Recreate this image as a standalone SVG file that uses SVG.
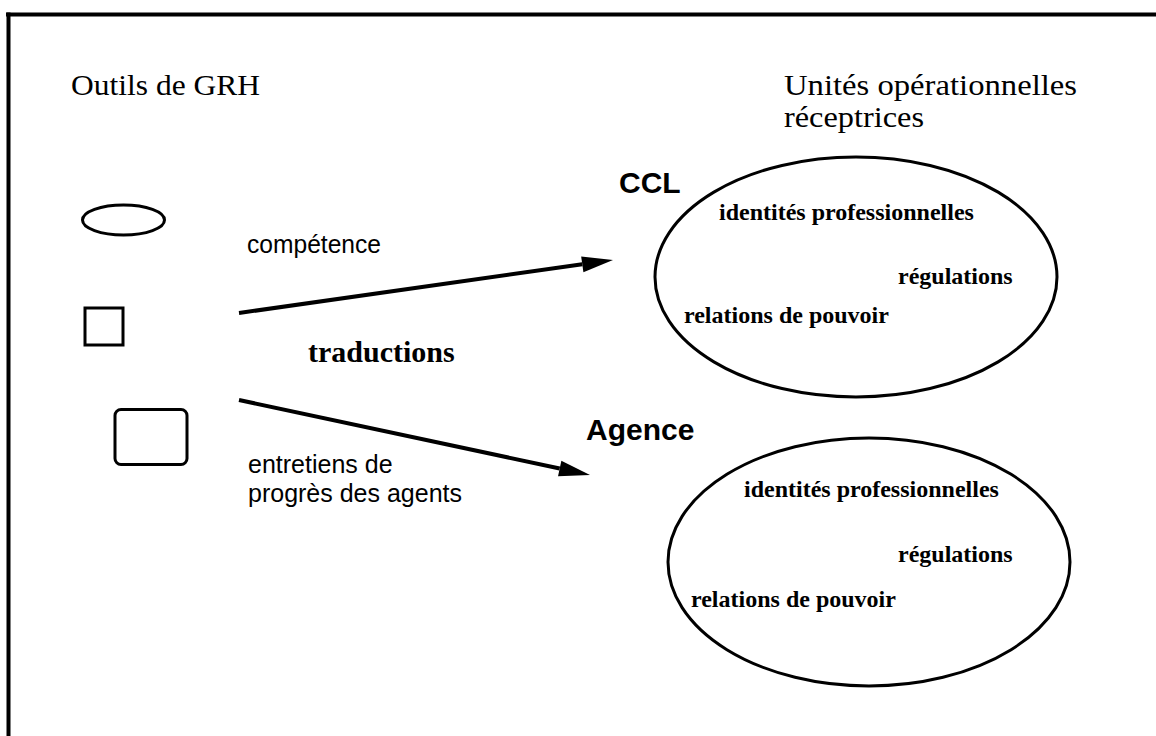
<svg xmlns="http://www.w3.org/2000/svg" width="1156" height="736" viewBox="0 0 1156 736">
<style>
.frame{stroke:#000;stroke-width:4;fill:none}
.shape{fill:none;stroke:#000;stroke-width:3}
.conn{stroke:#000;stroke-width:4;fill:none;marker-end:url(#ah)}
.head{font-family:"Liberation Serif","Times New Roman",serif;font-size:29px;fill:#000}
.inner{font-family:"Liberation Serif","Times New Roman",serif;font-size:24px;font-weight:bold;fill:#000}
.sans{font-family:"Liberation Sans",Arial,sans-serif;font-size:25px;fill:#000}
.unit{font-family:"Liberation Sans",Arial,sans-serif;font-size:30px;font-weight:bold;fill:#000}
.trad{font-family:"Liberation Serif","Times New Roman",serif;font-size:30px;font-weight:bold;fill:#000}
</style>
<defs>
<marker id="ah" markerUnits="userSpaceOnUse" markerWidth="40" markerHeight="20" refX="0" refY="10" orient="auto" viewBox="0 0 40 20" overflow="visible">
<path d="M0,2 L31,10 L0,18 z" fill="#000"/>
</marker>
</defs>
<rect width="1156" height="736" fill="#fff"/>
<g id="frame">
<line class="frame" x1="6" y1="14.5" x2="1156" y2="14.5"/>
<line class="frame" x1="8.5" y1="12.5" x2="8.5" y2="736"/>
</g>
<g id="title-left"><text class="head" x="71" y="95" textLength="189" lengthAdjust="spacingAndGlyphs">Outils de GRH</text></g>
<g id="title-right">
<text class="head" x="784" y="95" textLength="293" lengthAdjust="spacingAndGlyphs">Unités opérationnelles</text>
<text class="head" x="784" y="127" textLength="140" lengthAdjust="spacingAndGlyphs">réceptrices</text>
</g>
<g id="tool-ellipse"><ellipse class="shape" cx="123.5" cy="220" rx="41" ry="15"/></g>
<g id="tool-square"><rect class="shape" x="85" y="308" width="38" height="37" stroke-width="2.5"/></g>
<g id="tool-rect"><rect class="shape" x="115" y="409.5" width="72" height="55" rx="6"/></g>
<g id="connectors">
<line class="conn" x1="239" y1="313" x2="582.3" y2="264.3"/>
<line class="conn" x1="239" y1="400" x2="559.7" y2="468.5"/>
</g>
<g id="labels">
<text class="sans" x="247" y="253" textLength="134" lengthAdjust="spacingAndGlyphs">compétence</text>
<text class="trad" x="308" y="362">traductions</text>
<text class="sans" x="248" y="473">entretiens de</text>
<text class="sans" x="248" y="502">progrès des agents</text>
</g>
<g id="ccl">
<text class="unit" x="619" y="193">CCL</text>
<ellipse class="shape" cx="856" cy="277" rx="201" ry="120"/>
<text class="inner" x="719" y="220">identités professionnelles</text>
<text class="inner" x="898" y="284">régulations</text>
<text class="inner" x="684" y="323">relations de pouvoir</text>
</g>
<g id="agence">
<text class="unit" x="586" y="440">Agence</text>
<ellipse class="shape" cx="869" cy="562" rx="201" ry="124"/>
<text class="inner" x="744" y="497">identités professionnelles</text>
<text class="inner" x="898" y="562">régulations</text>
<text class="inner" x="691" y="607">relations de pouvoir</text>
</g>
</svg>
